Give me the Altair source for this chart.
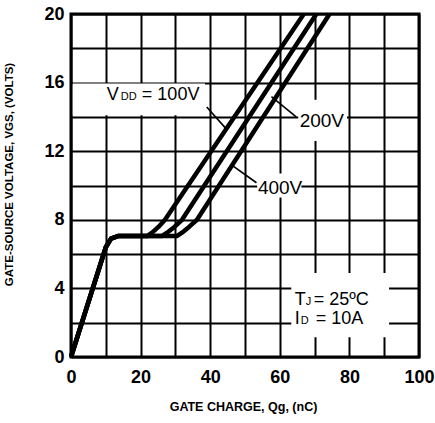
import altair as alt
import pandas as pd

FONT = "Liberation Sans"

# Gate charge curves (Qg in nC, VGS in volts) for three drain supply voltages
vdd_levels = ["100V", "200V", "400V"]
vgs_points = [0, 6.4, 6.9, 7.05, 7.05, 7.25, 7.6, 8.0, 20]
qg_100 = [0, 10, 11.5, 13.5, 21.8, 23.3, 25.2, 27.0, 66.9]
qg_200 = [0, 10, 11.5, 13.5, 26.1, 27.6, 29.8, 31.9, 70.5]
qg_400 = [0, 10, 11.5, 13.5, 30.4, 31.9, 34.0, 36.2, 74.3]

x_ticks = [0, 10, 20, 30, 40, 50, 60, 70, 80, 90, 100]
y_ticks = [0, 2, 4, 6, 8, 10, 12, 14, 16, 18, 20]

rows = []
for level, qs in zip(vdd_levels, [qg_100, qg_200, qg_400]):
    for i, (q, v) in enumerate(zip(qs, vgs_points)):
        rows.append({"vdd": level, "q": q, "v": v, "i": i})
curves = pd.DataFrame(rows)

xs = alt.Scale(domain=[0, 100], nice=False, zero=False)
ys = alt.Scale(domain=[0, 20], nice=False, zero=False)

X_TITLE = "GATE CHARGE, Qg, (nC)"
Y_TITLE = "GATE-SOURCE VOLTAGE, VGS, (VOLTS)"

x_axis = alt.Axis(values=x_ticks,
                  labelExpr="datum.value % 20 === 0 ? datum.label : ''",
                  title=X_TITLE, titleFontSize=12.5,
                  titleX=172, titleY=43)
y_axis = alt.Axis(values=y_ticks,
                  labelExpr="datum.value % 4 === 0 ? datum.label : ''",
                  title=Y_TITLE, titleFontSize=11.5,
                  titleX=-57, titleY=160)


def xq(field):
    return alt.X(f"{field}:Q", scale=xs, axis=x_axis, title=X_TITLE)


def yq(field):
    return alt.Y(f"{field}:Q", scale=ys, axis=y_axis, title=Y_TITLE)


lines = alt.Chart(curves).mark_line(color="black", strokeWidth=4.5, strokeJoin="round").encode(
    x=xq("q"), y=yq("v"), detail="vdd:N", order="i:Q",
)

# White boxes that break the grid behind the annotation text
box_x = [0.5, 65.3, 53.5, 63.3]
box_x2 = [38.5, 79.3, 66.2, 91.4]
box_y = [14.1, 12.6, 9.3, 1.15]
box_y2 = [15.95, 15.0, 10.7, 4.9]
boxes = alt.Chart(pd.DataFrame({"q": box_x, "q2": box_x2, "v": box_y, "v2": box_y2})).mark_rect(
    fill="white").encode(x=xq("q"), x2="q2:Q", y=yq("v"), y2="v2:Q")

# Leader lines from the labels to the curves
lead_x = [39.0, 57.6, 46.1]
lead_x2 = [44.6, 64.7, 53.3]
lead_y = [14.58, 15.18, 11.2]
lead_y2 = [13.3, 14.0, 10.16]
leaders = alt.Chart(pd.DataFrame({"q": lead_x, "q2": lead_x2, "v": lead_y, "v2": lead_y2})).mark_rule(
    color="black", strokeWidth=1.6).encode(x=xq("q"), x2="q2:Q", y=yq("v"), y2="v2:Q")


def label(x, y, s, size, dx=0):
    return alt.Chart(pd.DataFrame({"q": [x], "v": [y], "t": [s]})).mark_text(
        align="left", baseline="alphabetic", font=FONT, fontSize=size, dx=dx, color="black"
    ).encode(x=xq("q"), y=yq("v"), text="t:N")


texts = [
    label(10.3, 15.0, "V", 18),
    label(10.3, 15.0, "DD", 11, dx=14),
    label(10.3, 15.0, "= 100V", 18, dx=35),
    label(65.7, 13.41, "200V", 19),
    label(53.7, 9.5, "400V", 19),
    label(64.3, 3.03, "T", 18),
    label(64.3, 3.03, "J", 11, dx=11),
    label(64.3, 3.03, "= 25ºC", 18, dx=19),
    label(64.3, 1.92, "I", 18),
    label(64.3, 1.92, "D", 11, dx=6),
    label(64.3, 1.92, "= 10A", 18, dx=21),
]

chart = alt.layer(lines, boxes, leaders, *texts).properties(
    width=348, height=343,
    autosize=alt.AutoSizeParams(type="none"),
    padding={"left": 71, "top": 14, "right": 16, "bottom": 66},
    background="white",
).configure_view(
    stroke="black", strokeWidth=3,
).configure_axis(
    grid=True, gridColor="black", gridWidth=2, gridOpacity=1,
    domain=False, ticks=False, tickSize=0,
    labelFont=FONT, labelFontSize=18, labelFontWeight="bold", labelColor="black",
    labelOverlap=False, labelFlush=False,
    titleFont=FONT, titleFontWeight="bold", titleColor="black",
).configure_axisX(labelPadding=11).configure_axisY(labelPadding=7)

chart.save("out.html", embed_options={"renderer": "svg", "actions": False})
